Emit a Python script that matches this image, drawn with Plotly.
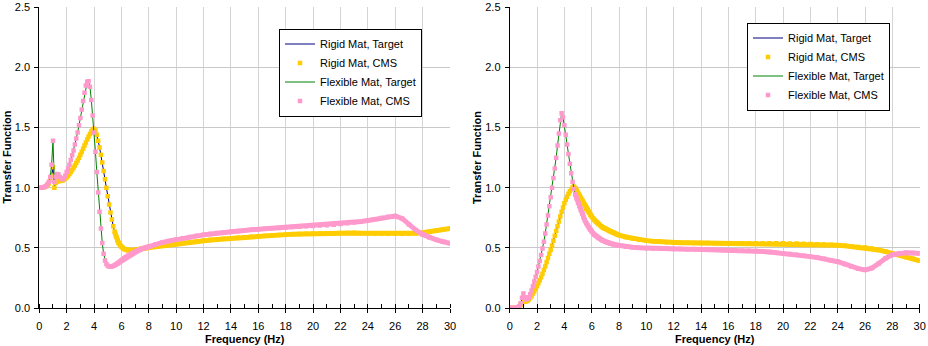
import plotly.graph_objects as go

# Frequency grid (Hz)
freq = [0.0, 0.1, 0.2, 0.3, 0.4, 0.5, 0.6, 0.7, 0.8, 0.9,
        1.0, 1.1, 1.2, 1.3, 1.4, 1.5, 1.6, 1.7, 1.8, 1.9,
        2.0, 2.1, 2.2, 2.3, 2.4, 2.5, 2.6, 2.7, 2.8, 2.9,
        3.0, 3.1, 3.2, 3.3, 3.4, 3.5, 3.6, 3.7, 3.8, 3.9,
        4.0, 4.1, 4.2, 4.3, 4.4, 4.5, 4.6, 4.7, 4.8, 4.9,
        5.0, 5.1, 5.2, 5.3, 5.4, 5.5, 5.6, 5.7, 5.8, 5.9,
        6.0, 6.1, 6.2, 6.3, 6.4, 6.5, 6.6, 6.7, 6.8, 6.9,
        7.0, 7.1, 7.2, 7.3, 7.4, 7.5, 7.6, 7.7, 7.8, 7.9,
        8.0, 8.5, 9.0, 9.5, 10.0, 10.5, 11.0, 11.5, 12.0, 12.5,
        13.0, 13.5, 14.0, 14.5, 15.0, 15.5, 16.0, 16.5, 17.0, 17.5,
        18.0, 18.5, 19.0, 19.5, 20.0, 20.5, 21.0, 21.5, 22.0, 22.5,
        23.0, 23.5, 24.0, 24.5, 25.0, 25.5, 26.0, 26.5, 27.0, 27.5,
        28.0, 28.5, 29.0, 29.5, 30.0]

# Left chart
left_flexible = [1.000, 1.000, 1.001, 1.004, 1.008, 1.015, 1.03, 1.05, 1.09, 1.19,
                 1.39, 1.05, 1.09, 1.115, 1.11, 1.09, 1.075, 1.07, 1.08, 1.10,
                 1.13, 1.16, 1.19, 1.23, 1.27, 1.31, 1.36, 1.41, 1.46, 1.52,
                 1.58, 1.65, 1.72, 1.79, 1.85, 1.88, 1.885, 1.84, 1.73, 1.60,
                 1.46, 1.30, 1.13, 0.96, 0.80, 0.66, 0.54, 0.45, 0.395, 0.365,
                 0.352, 0.345, 0.343, 0.345, 0.349, 0.355, 0.362, 0.37, 0.378, 0.387,
                 0.396, 0.405, 0.413, 0.421, 0.429, 0.436, 0.443, 0.45, 0.456, 0.462,
                 0.468, 0.473, 0.478, 0.483, 0.488, 0.492, 0.496, 0.50, 0.504, 0.508,
                 0.512, 0.53, 0.545, 0.558, 0.57, 0.58, 0.59, 0.60, 0.608, 0.616,
                 0.623, 0.629, 0.635, 0.64, 0.645, 0.65, 0.654, 0.658, 0.662, 0.666,
                 0.67, 0.673, 0.676, 0.679, 0.682, 0.685, 0.689, 0.693, 0.698, 0.704,
                 0.711, 0.719, 0.728, 0.738, 0.749, 0.759, 0.764, 0.745, 0.695, 0.648,
                 0.612, 0.587, 0.567, 0.551, 0.538]

left_rigid = [1.000, 1.000, 1.001, 1.003, 1.006, 1.012, 1.022, 1.035, 1.06, 1.10,
              1.17, 1.00, 1.04, 1.05, 1.055, 1.055, 1.057, 1.06, 1.068, 1.077,
              1.087, 1.10, 1.115, 1.13, 1.147, 1.165, 1.185, 1.205, 1.227, 1.25,
              1.275, 1.30, 1.325, 1.35, 1.375, 1.40, 1.425, 1.447, 1.467, 1.482,
              1.49, 1.475, 1.44, 1.39, 1.335, 1.275, 1.21, 1.14, 1.07, 1.00,
              0.93, 0.86, 0.795, 0.735, 0.68, 0.635, 0.595, 0.563, 0.54, 0.522,
              0.508, 0.498, 0.491, 0.486, 0.483, 0.481, 0.48, 0.48, 0.48, 0.481,
              0.482, 0.484, 0.486, 0.488, 0.49, 0.492, 0.494, 0.496, 0.498, 0.50,
              0.502, 0.51, 0.518, 0.526, 0.533, 0.54, 0.547, 0.553, 0.559, 0.565,
              0.57, 0.575, 0.58, 0.585, 0.589, 0.593, 0.597, 0.601, 0.604, 0.607,
              0.61, 0.613, 0.615, 0.617, 0.619, 0.62, 0.621, 0.622, 0.623, 0.623,
              0.623, 0.622, 0.621, 0.62, 0.619, 0.618, 0.617, 0.617, 0.618, 0.621,
              0.626, 0.633, 0.642, 0.652, 0.662]

# Right chart
right_flexible = [0.0, 0.0, 0.0, 0.0, 0.001, 0.003, 0.007, 0.015, 0.04, 0.085,
                  0.12, 0.09, 0.07, 0.075, 0.09, 0.115, 0.145, 0.18, 0.22, 0.26,
                  0.30, 0.345, 0.39, 0.44, 0.495, 0.55, 0.62, 0.695, 0.77, 0.845,
                  0.92, 1.00, 1.08, 1.16, 1.25, 1.35, 1.45, 1.56, 1.62, 1.585,
                  1.52, 1.44, 1.36, 1.28, 1.20, 1.12, 1.05, 0.99, 0.945, 0.91,
                  0.875, 0.845, 0.815, 0.785, 0.755, 0.73, 0.705, 0.685, 0.665, 0.65,
                  0.635, 0.622, 0.61, 0.60, 0.59, 0.582, 0.575, 0.568, 0.562, 0.556,
                  0.551, 0.546, 0.542, 0.538, 0.535, 0.532, 0.529, 0.526, 0.523, 0.521,
                  0.519, 0.51, 0.505, 0.50, 0.497, 0.495, 0.494, 0.492, 0.491, 0.49,
                  0.489, 0.488, 0.487, 0.486, 0.485, 0.483, 0.481, 0.479, 0.477, 0.475,
                  0.473, 0.469, 0.465, 0.46, 0.455, 0.449, 0.442, 0.435, 0.427, 0.419,
                  0.41, 0.398, 0.385, 0.366, 0.345, 0.327, 0.317, 0.332, 0.37, 0.413,
                  0.443, 0.455, 0.459, 0.457, 0.454]

right_rigid = [0.0, 0.0, 0.0, 0.0, 0.001, 0.003, 0.007, 0.014, 0.025, 0.04,
               0.055, 0.055, 0.055, 0.06, 0.07, 0.085, 0.10, 0.12, 0.14, 0.16,
               0.18, 0.205, 0.23, 0.255, 0.285, 0.315, 0.345, 0.38, 0.415, 0.45,
               0.485, 0.52, 0.56, 0.60, 0.64, 0.68, 0.72, 0.76, 0.80, 0.835,
               0.87, 0.90, 0.925, 0.95, 0.97, 0.988, 1.002, 1.01, 0.997, 0.977,
               0.956, 0.935, 0.912, 0.89, 0.867, 0.846, 0.826, 0.807, 0.79, 0.774,
               0.759, 0.745, 0.732, 0.72, 0.709, 0.698, 0.688, 0.679, 0.671, 0.664,
               0.658, 0.652, 0.646, 0.64, 0.635, 0.63, 0.625, 0.62, 0.615, 0.61,
               0.605, 0.59, 0.578, 0.568, 0.56, 0.555, 0.55, 0.547, 0.545, 0.543,
               0.542, 0.541, 0.54, 0.54, 0.539, 0.539, 0.539, 0.539, 0.539, 0.539,
               0.539, 0.539, 0.539, 0.538, 0.538, 0.537, 0.536, 0.535, 0.533, 0.531,
               0.528, 0.525, 0.521, 0.517, 0.512, 0.507, 0.502, 0.494, 0.483, 0.469,
               0.454, 0.44, 0.425, 0.41, 0.393]

x_ticks = [0, 2, 4, 6, 8, 10, 12, 14, 16, 18, 20, 22, 24, 26, 28, 30]
y_ticks = [0.0, 0.5, 1.0, 1.5, 2.0, 2.5]

NAVY = "#000080"
GOLD = "#FFCC00"
GREEN = "#008000"
PINK = "#FF99CC"
FONT = "Liberation Sans, Arial, sans-serif"
MSIZE = 4.5

fig = go.Figure()


def add_panel(xa, ya, rigid, flexible, legend, band_start):
    band_idx = [i for i, f in enumerate(freq) if f >= band_start]
    bx = [freq[i] for i in band_idx]
    # rigid
    fig.add_trace(go.Scatter(x=freq, y=rigid, mode="lines", name="Rigid Mat, Target",
                             line=dict(color=NAVY, width=1), xaxis=xa, yaxis=ya, legend=legend))
    fig.add_trace(go.Scatter(x=bx, y=[rigid[i] for i in band_idx], mode="lines",
                             line=dict(color=GOLD, width=5), showlegend=False,
                             hoverinfo="skip", xaxis=xa, yaxis=ya))
    fig.add_trace(go.Scatter(x=freq, y=rigid, mode="markers", name="Rigid Mat, CMS",
                             marker=dict(color=GOLD, size=MSIZE, symbol="square", line=dict(width=0)),
                             xaxis=xa, yaxis=ya, legend=legend))
    # flexible
    fig.add_trace(go.Scatter(x=freq, y=flexible, mode="lines", name="Flexible Mat, Target",
                             line=dict(color=GREEN, width=1), xaxis=xa, yaxis=ya, legend=legend))
    fig.add_trace(go.Scatter(x=bx, y=[flexible[i] for i in band_idx], mode="lines",
                             line=dict(color=PINK, width=5), showlegend=False,
                             hoverinfo="skip", xaxis=xa, yaxis=ya))
    fig.add_trace(go.Scatter(x=freq, y=flexible, mode="markers", name="Flexible Mat, CMS",
                             marker=dict(color=PINK, size=MSIZE, symbol="square", line=dict(width=0)),
                             xaxis=xa, yaxis=ya, legend=legend))


add_panel("x", "y", left_rigid, left_flexible, "legend", 5.5)
add_panel("x2", "y2", right_rigid, right_flexible, "legend2", 4.8)

W, H = 928, 346
ydom = [1 - 308 / H, 1 - 7.3 / H]

xcommon = dict(range=[0, 30], tickmode="array", tickvals=x_ticks, automargin=False,
               ticks="outside", ticklen=4, tickcolor="#000", tickwidth=1,
               showline=True, linecolor="#000", linewidth=1,
               showgrid=True, gridcolor="#d4d4d4", gridwidth=1, zeroline=False,
               tickfont=dict(family=FONT, size=11, color="#000"),
               ticklabelstandoff=4,
               minor=dict(dtick=1, tick0=0, ticks="inside", ticklen=4, tickcolor="#000",
                          showgrid=False))
ycommon = dict(range=[0, 2.5], tickmode="array", tickvals=y_ticks, automargin=False,
               ticktext=[f"{v:.1f}" for v in y_ticks],
               ticks="outside", ticklen=4, tickcolor="#000", tickwidth=1,
               showline=True, linecolor="#000", linewidth=1,
               showgrid=True, gridcolor="#c8c8c8", gridwidth=1, zeroline=False,
               ticklabelstandoff=2,
               tickfont=dict(family=FONT, size=11, color="#000"))

legend_common = dict(bgcolor="#fff", bordercolor="#000", borderwidth=1,
                     font=dict(family=FONT, size=11, color="#000"),
                     xanchor="left", yanchor="middle", tracegroupgap=0)

fig.update_layout(
    width=W, height=H, margin=dict(l=0, r=0, t=0, b=0, autoexpand=False),
    paper_bgcolor="#fff", plot_bgcolor="#fff",
    xaxis=dict(domain=[39.3 / W, 450 / W], anchor="y", **xcommon),
    yaxis=dict(domain=ydom, anchor="x", **ycommon),
    xaxis2=dict(domain=[509.7 / W, 919.7 / W], anchor="y2", **xcommon),
    yaxis2=dict(domain=ydom, anchor="x2", **ycommon),
    legend=dict(x=279 / W, y=1 - 72.5 / H, **legend_common),
    legend2=dict(x=747 / W, y=1 - 66.5 / H, **legend_common),
    showlegend=True,
    annotations=[
        dict(text="<b>Transfer Function</b>", x=6 / W, y=1 - 157.5 / H, xref="paper", yref="paper",
             xanchor="center", yanchor="middle",
             textangle=-90, showarrow=False, font=dict(family=FONT, size=11, color="#000")),
        dict(text="<b>Transfer Function</b>", x=476.5 / W, y=1 - 157.5 / H, xref="paper", yref="paper",
             xanchor="center", yanchor="middle",
             textangle=-90, showarrow=False, font=dict(family=FONT, size=11, color="#000")),
        dict(text="<b>Frequency (Hz)</b>", x=244.6 / W, y=0, xref="paper", yref="paper",
             xanchor="center", yanchor="bottom", showarrow=False, borderpad=0,
             font=dict(family=FONT, size=11, color="#000")),
        dict(text="<b>Frequency (Hz)</b>", x=714.7 / W, y=0, xref="paper", yref="paper",
             xanchor="center", yanchor="bottom", showarrow=False, borderpad=0,
             font=dict(family=FONT, size=11, color="#000")),
    ],
)

fig.write_html("out.html")
